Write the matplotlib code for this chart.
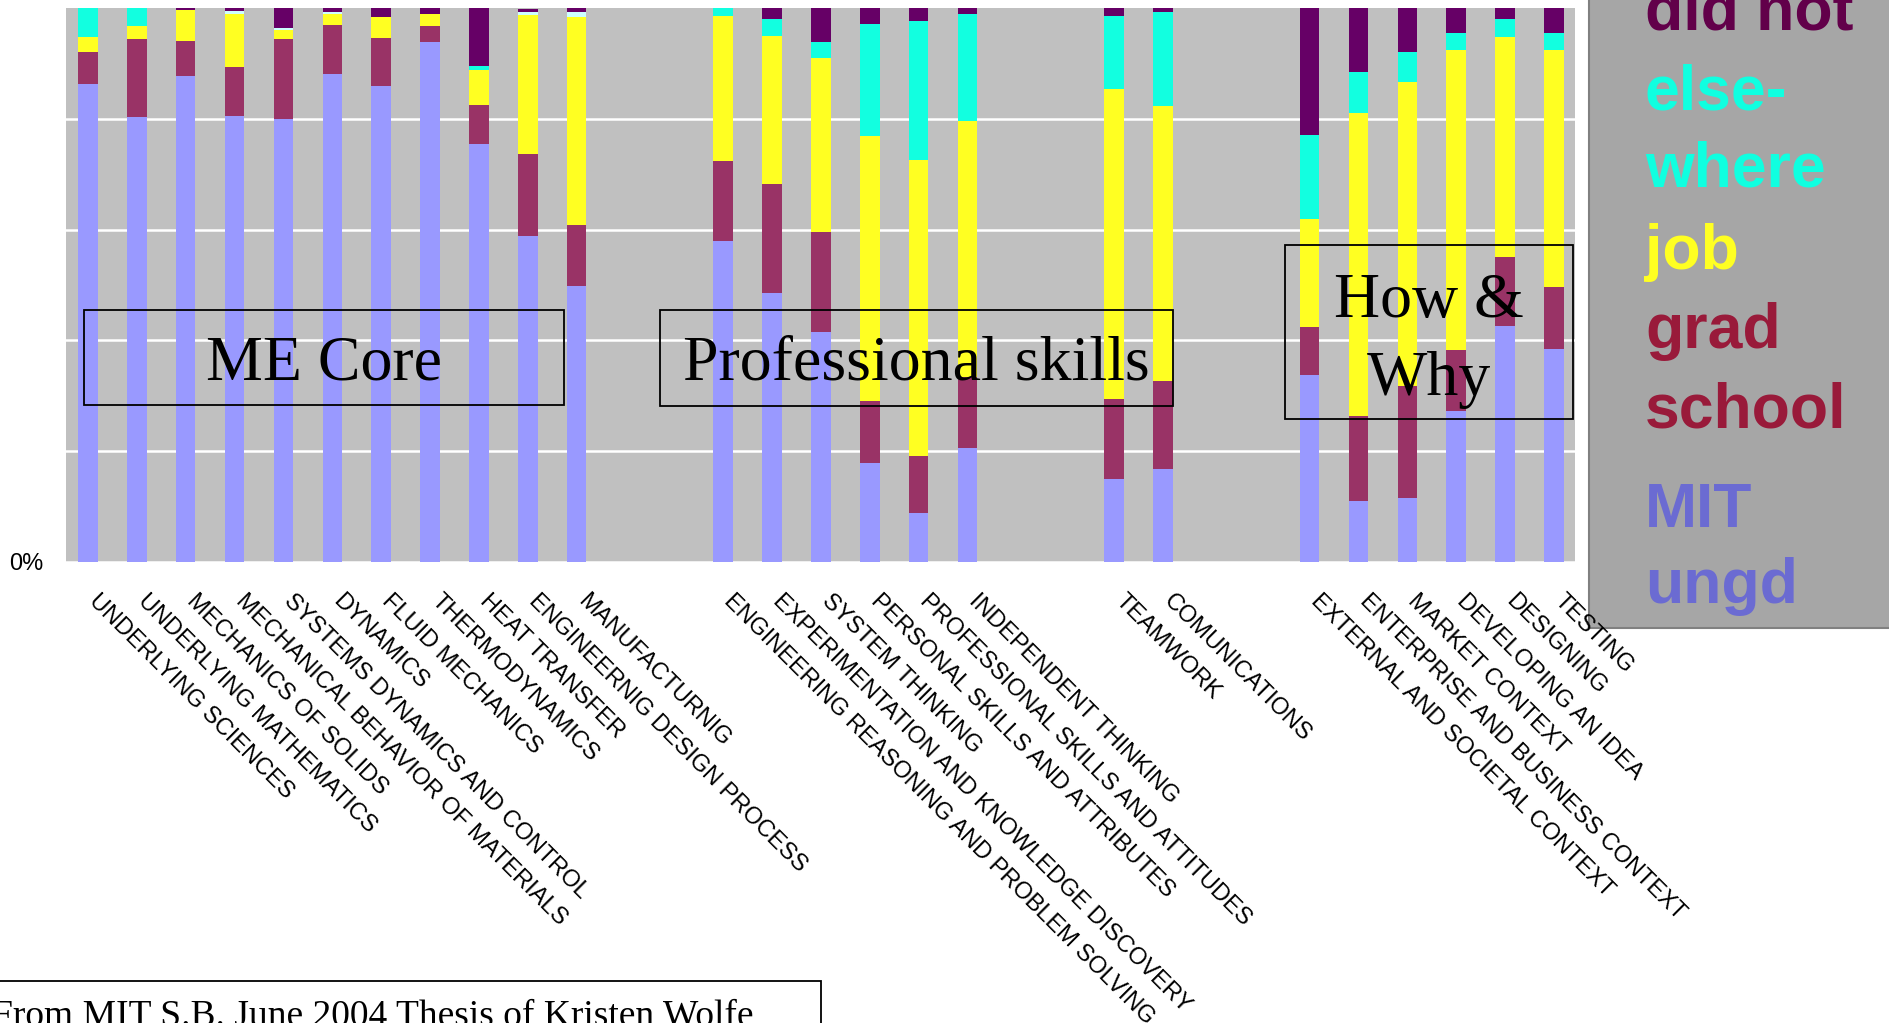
import matplotlib
matplotlib.use("Agg")
import matplotlib.pyplot as plt
from matplotlib.patches import Rectangle
from matplotlib.transforms import ScaledTranslation
import numpy as np

# category groups (left to right)
me_core = ["UNDERLYING SCIENCES", "UNDERLYING MATHEMATICS", "MECHANICS OF SOLIDS",
           "MECHANICAL BEHAVIOR OF MATERIALS", "SYSTEMS DYNAMICS AND CONTROL", "DYNAMICS",
           "FLUID MECHANICS", "THERMODYNAMICS", "HEAT TRANSFER",
           "ENGINEERNIG DESIGN PROCESS", "MANUFACTURNIG"]
prof_skills = ["ENGINEERING REASONING AND PROBLEM SOLVING", "EXPERIMENTATION AND KNOWLEDGE DISCOVERY",
               "SYSTEM THINKING", "PERSONAL SKILLS AND ATTRIBUTES",
               "PROFESSIONAL SKILLS AND ATTITUDES", "INDEPENDENT THINKING"]
team_skills = ["TEAMWORK", "COMUNICATIONS"]
how_why = ["EXTERNAL AND SOCIETAL CONTEXT", "ENTERPRISE AND BUSINESS CONTEXT", "MARKET CONTEXT",
           "DEVELOPING AN IDEA", "DESIGNING", "TESTING"]

# percent of respondents, per category (same order as above)
mit_ungd = [86.3, 80.3, 87.7, 80.5, 80.0, 88.0, 86.0, 93.8, 75.5, 58.9, 49.9,
            57.9, 48.6, 41.5, 17.9, 8.9, 20.5,
            14.9, 16.7,
            33.8, 11.0, 11.5, 27.3, 42.6, 38.5]
grad_school = [5.7, 14.1, 6.3, 8.8, 14.4, 9.0, 8.5, 2.9, 7.0, 14.8, 11.0,
               14.5, 19.7, 18.1, 11.2, 10.3, 12.9,
               14.6, 16.0,
               8.6, 15.3, 20.3, 10.9, 12.5, 11.1]
job = [2.7, 2.3, 5.6, 9.7, 1.6, 2.0, 3.9, 2.2, 6.3, 25.0, 37.4,
       26.1, 26.6, 31.3, 47.8, 53.3, 46.2,
       55.8, 49.6,
       19.6, 54.7, 54.9, 54.3, 39.7, 42.9]
elsewhere = [5.3, 3.3, 0, 0, 0, 0, 0, 0, 0.7, 0, 0,
             1.5, 3.1, 2.9, 20.2, 25.1, 19.3,
             13.2, 17.0,
             15.0, 7.5, 5.4, 3.0, 3.2, 3.0]
other = [0, 0, 0, 0.5, 0.3, 0.3, 0, 0, 0, 0.6, 1.0,
         0, 0, 0, 0, 0, 0,
         0, 0,
         0, 0, 0, 0, 0, 0]
did_not = [0, 0, 0.7, 0.5, 3.7, 0.7, 1.6, 1.1, 10.5, 0.6, 0.7,
           0, 2.0, 6.2, 2.9, 2.4, 1.1,
           1.5, 0.7,
           23.0, 11.5, 7.9, 4.5, 2.0, 4.5]

legend_lines = ["did not", "else-", "where", "job", "grad", "school", "MIT", "ungd"]

W, H = 1890, 1023


def fx(px):
    return px / W


def fy(py):
    return 1 - py / H


fig = plt.figure(figsize=(W / 100, H / 100), dpi=100)
fig.patch.set_facecolor("white")

ax = fig.add_axes([fx(66), fy(562), fx(1575) - fx(66), fy(8) - fy(562)])
ax.set_facecolor("#C0C0C0")

# x positions: groups separated by two empty slots
groups = [me_core, prof_skills, team_skills, how_why]
positions = []
labels = []
start = 0
for g in groups:
    positions += list(range(start, start + len(g)))
    labels += g
    start += len(g) + 2
x = np.array(positions)

series = [
    (mit_ungd, "#9999FF"),
    (grad_school, "#993366"),
    (job, "#FFFF22"),
    (elsewhere, "#12FFE0"),
    (other, "#CCFFFF"),
    (did_not, "#660066"),
]
bottom = np.zeros(len(x))
for vals, col in series:
    v = np.array(vals, dtype=float)
    ax.bar(x, v, bottom=bottom, width=0.4, color=col, linewidth=0, zorder=2)
    bottom += v

ax.set_xlim(-0.45, 30.43)
ax.set_ylim(0, 100)
for s in ax.spines.values():
    s.set_visible(False)

ax.set_yticks([0, 20, 40, 60, 80])
ax.set_yticklabels(["0%", "", "", "", ""], fontsize=17, family="Liberation Sans")
ax.yaxis.grid(True, color="white", linewidth=1.8, zorder=1)
ax.set_axisbelow(True)
ax.tick_params(axis="y", length=0, pad=16)

ax.set_xticks(x)
ax.set_xticklabels(labels, rotation=-45, ha="left", va="top", rotation_mode="anchor",
                   fontsize=17, family="Liberation Sans")
ax.tick_params(axis="x", length=0, pad=16)
shift = ScaledTranslation(12 / 100, -6 / 100, fig.dpi_scale_trans)
for lab in ax.get_xticklabels():
    lab.set_transform(lab.get_transform() + shift)

# group boxes
serif = "Liberation Serif"
boxes = [
    (84, 310, 564, 405),
    (660, 310, 1173, 406),
    (1285, 245, 1573, 419),
]
for (x0, y0, x1, y1) in boxes:
    fig.add_artist(Rectangle((fx(x0), fy(y1)), fx(x1) - fx(x0), fy(y0) - fy(y1),
                             transform=fig.transFigure, fill=False, ec="black", lw=1.3))
fig.text(fx(324), fy(380), "ME Core", ha="center", va="baseline", fontsize=46, family=serif)
fig.text(fx(916), fy(380), "Professional skills", ha="center", va="baseline", fontsize=46, family=serif)
fig.text(fx(1429), fy(317), "How &", ha="center", va="baseline", fontsize=46, family=serif)
fig.text(fx(1429), fy(395), "Why", ha="center", va="baseline", fontsize=46, family=serif)

# legend panel (behind the axes so the last tick label stays on top)
fig.add_artist(Rectangle((fx(1589), fy(628)), fx(1900) - fx(1589), fy(-10) - fy(628),
                         transform=fig.transFigure, fc="#A6A6A6", ec="#808080", lw=1.5,
                         zorder=-1))
legend_colors = ["#62004A", "#10FFE0", "#10FFE0", "#FFFF22", "#991A3A", "#991A3A", "#6B6BD2", "#6B6BD2"]
legend_base = [29, 109, 186, 269, 348, 427, 527, 603]
for txt, col, yb in zip(legend_lines, legend_colors, legend_base):
    fig.text(fx(1645), fy(yb), txt, ha="left", va="baseline", fontsize=45,
             fontweight="bold", family="Liberation Sans", color=col)

# source note
fig.add_artist(Rectangle((fx(-5), fy(1040)), fx(821) - fx(-5), fy(981) - fy(1040),
                         transform=fig.transFigure, fill=False, ec="black", lw=1.3))
fig.text(fx(-8), fy(1025), "From MIT S.B. June 2004 Thesis of Kristen Wolfe", ha="left",
         va="baseline", fontsize=27, family=serif)

fig.savefig("out.png", dpi=100)
